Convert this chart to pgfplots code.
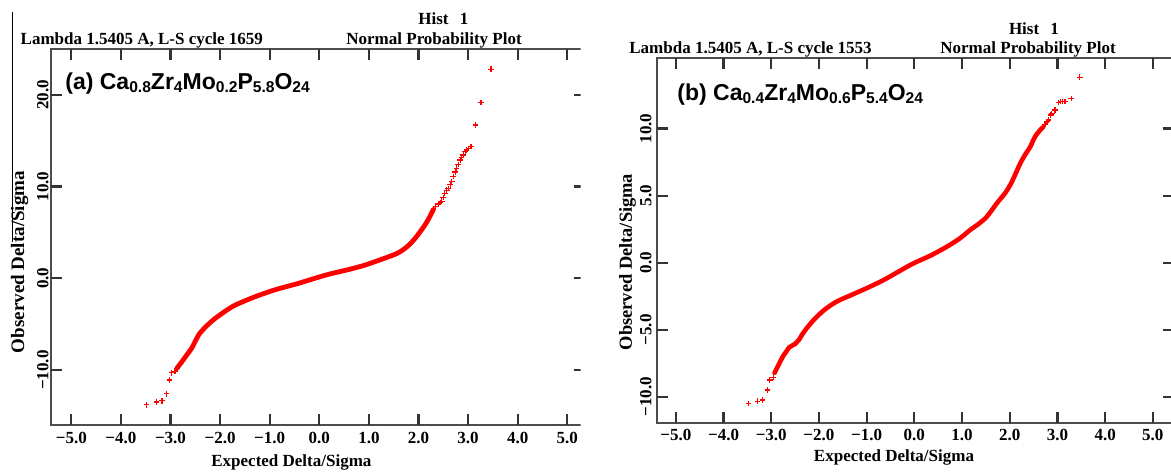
\documentclass[border=0pt]{standalone}
\usepackage{fontspec}
\setmainfont{Liberation Serif}
\newfontfamily\lsans{Liberation Sans}
\usepackage{pgfplots}
\pgfplotsset{compat=1.18}

\newcommand\sub[1]{\raisebox{-1.8pt}{\fontsize{7.8}{8}\selectfont #1}}
\newcommand\lab{\fontsize{8.5}{9}\selectfont\bfseries}
\tikzset{tk/.style={draw=black!80, line width=1.1pt}}

\pgfplotsset{gsas/.style={
  scale only axis, anchor=south west,
  axis line style={black!70, line width=1pt},
  tick align=inside, major tick length=5.5pt,
  xtick style={draw=black!80, line width=1.1pt},
  ytick style={draw=black!80, line width=1.1pt},
  xtick={-5,...,5},
  xticklabels={−5.0,−4.0,−3.0,−2.0,−1.0,0.0,1.0,2.0,3.0,4.0,5.0},
  xticklabel style={font=\lab, anchor=center},
  xticklabel shift=6.3pt,
}}

\begin{document}
\begin{tikzpicture}
\useasboundingbox (0,0) rectangle (585.5pt,236.5pt);
\draw[black, line width=0.5pt] (6pt,230.5pt) -- (6pt,115.5pt);

% panel (a)
\begin{scope}
\clip (0,0) rectangle (290.25pt,236.5pt);
\begin{axis}[gsas, at={(25.35pt,24pt)}, width=267.15pt, height=187.85pt,
  xmin=-5.415, xmax=5.357, ymin=-16, ymax=24.97,
  ytick={-10,0,10,20}, yticklabels={−10.0,0.0,10.0,20.0},
  yticklabel style={font=\lab, anchor=center, rotate=90},
  yticklabel shift=3.9pt]
\pgfplotsinvokeforeach{-5,-4,-3,-2,-1,0,1,2,3,4,5}{
  \draw[tk] (axis cs:#1,-16) -- ++(0pt,5.5pt);
  \draw[tk] (axis cs:#1,24.97) -- ++(0pt,-5.5pt);
}
\pgfplotsinvokeforeach{-10,0,10,20}{
  \draw[tk] (axis cs:-5.415,#1) -- ++(5.5pt,0pt);
}
\addplot[red, line width=2.4pt, smooth, tension=0.5, line cap=round] table {
-2.87 -9.8
-2.77 -9.1
-2.67 -8.35
-2.57 -7.6
-2.47 -6.55
-2.41 -6.0
-2.30 -5.35
-2.14 -4.55
-1.94 -3.75
-1.73 -3.02
-1.46 -2.37
-1.20 -1.82
-0.86 -1.2
-0.45 -0.6
-0.12 -0.05
0.20 0.45
0.55 0.9
0.90 1.4
1.22 2.0
1.45 2.45
1.60 2.8
1.76 3.4
1.90 4.15
2.03 5.05
2.17 6.15
2.30 7.5
};
\addplot[only marks, mark=+, red, mark size=1.4pt, line width=0.6pt] table {
-3.48 -13.8
-3.28 -13.5
-3.17 -13.35
-3.08 -12.6
-3.02 -11.1
-2.98 -10.3
-2.91 -10.15
-2.87 -9.8
2.30 7.5
2.34 7.85
2.40 8.1
2.44 8.25
2.47 8.4
2.50 8.8
2.53 9.27
2.57 9.6
2.60 9.81
2.64 10.2
2.67 10.54
2.70 11.08
2.74 11.6
2.77 12.0
2.80 12.4
2.84 12.9
2.87 13.2
2.90 13.45
2.94 13.8
2.97 13.99
3.01 14.15
3.06 14.35
3.15 16.72
3.26 19.15
3.46 22.79
};
\end{axis}
\end{scope}

% panel (b)
\begin{axis}[gsas, at={(328.25pt,25.15pt)}, width=258.75pt, height=182.2pt,
  xmin=-5.405, xmax=5.444, ymin=-11.92, ymax=15.23,
  ytick={-10,-5,0,5,10}, yticklabels={−10.0,−5.0,0.0,5.0,10.0},
  yticklabel style={font=\lab, anchor=center, rotate=90},
  yticklabel shift=5.3pt]
\pgfplotsinvokeforeach{-5,-4,-3,-2,-1,0,1,2,3,4,5}{
  \draw[tk] (axis cs:#1,-11.92) -- ++(0pt,5.5pt);
  \draw[tk] (axis cs:#1,15.23) -- ++(0pt,-5.5pt);
}
\pgfplotsinvokeforeach{-10,-5,0,5,10}{
  \draw[tk] (axis cs:-5.405,#1) -- ++(5.5pt,0pt);
}
\addplot[red, line width=2.3pt, smooth, tension=0.5, line cap=round] table {
-2.93 -8.2
-2.83 -7.5
-2.75 -6.95
-2.68 -6.6
-2.62 -6.3
-2.50 -6.05
-2.43 -5.8
-2.36 -5.4
-2.26 -4.9
-2.08 -4.15
-1.87 -3.47
-1.63 -2.9
-1.35 -2.45
-1.00 -1.9
-0.65 -1.3
-0.30 -0.6
-0.02 -0.05
0.35 0.55
0.68 1.19
0.95 1.8
1.17 2.44
1.35 2.9
1.52 3.43
1.73 4.43
1.90 5.17
2.01 5.79
2.11 6.53
2.22 7.4
2.32 8.03
2.43 8.64
2.53 9.39
2.64 9.89
2.70 10.1
};
\addplot[only marks, mark=+, red, mark size=1.4pt, line width=0.6pt] table {
-3.48 -10.48
-3.29 -10.31
-3.18 -10.23
-3.08 -9.49
-3.03 -8.74
-2.96 -8.54
2.74 10.3
2.78 10.5
2.81 10.63
2.86 11.0
2.88 11.13
2.95 11.38
3.02 11.95
3.07 12.0
3.11 12.0
3.16 12.02
3.29 12.25
3.47 13.82
};
\end{axis}

% texts panel (a)
\begin{scope}[every node/.style={inner sep=0pt}]
\node[anchor=base west, font=\lab] at (10.15pt,214.5pt) {Lambda 1.5405 A, L-S cycle 1659};
\node[anchor=base west, font=\lab] at (173pt,214.5pt) {Normal Probability Plot};
\node[anchor=base west, font=\lab] at (209pt,224.5pt) {Hist\hspace{0.66em}1};
\node[anchor=base west, font=\lsans\bfseries\fontsize{11.5}{13}\selectfont] at (32.5pt,192pt)
  {(a) Ca\sub{0.8}Zr\sub{4}Mo\sub{0.2}P\sub{5.8}O\sub{24}};
\node[anchor=base, font=\lab] at (145.7pt,3.5pt) {Expected Delta/Sigma};
\node[anchor=center, rotate=90, font=\fontsize{9.5}{11}\selectfont\bfseries] at (9.8pt,105.5pt) {Observed Delta/Sigma};
% texts panel (b)
\node[anchor=base west, font=\lab] at (314.5pt,210pt) {Lambda 1.5405 A, L-S cycle 1553};
\node[anchor=base west, font=\lab] at (470pt,210pt) {Normal Probability Plot};
\node[anchor=base west, font=\lab] at (504.3pt,219.5pt) {Hist\hspace{0.66em}1};
\node[anchor=base west, font=\lsans\bfseries\fontsize{11.5}{13}\selectfont] at (338.5pt,186.5pt)
  {(b) Ca\sub{0.4}Zr\sub{4}Mo\sub{0.6}P\sub{5.4}O\sub{24}};
\node[anchor=base, font=\lab] at (447pt,6pt) {Expected Delta/Sigma};
\node[anchor=center, rotate=90, font=\fontsize{9.2}{11}\selectfont\bfseries] at (313.75pt,105.5pt) {Observed Delta/Sigma};
\end{scope}
\end{tikzpicture}
\end{document}
